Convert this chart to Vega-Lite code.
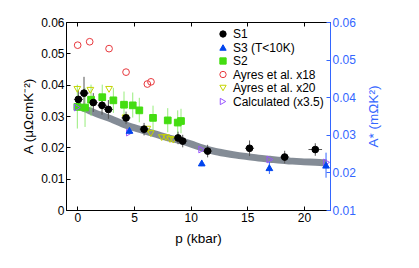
{
  "$schema": "https://vega.github.io/schema/vega-lite/v6.json",
  "width": 264,
  "height": 188,
  "autosize": {"type": "none"},
  "padding": {"left": 66, "top": 22, "right": 89, "bottom": 58},
  "config": {
    "font": "Liberation Sans",
    "view": {"stroke": "#000000", "strokeWidth": 1},
    "axis": {"labelFontSize": 12, "titleFontSize": 13.5, "titleFontWeight": "normal", "grid": false, "labelColor": "#000", "titleColor": "#000", "domainColor": "#000", "tickColor": "#000", "labelOverlap": false},
    "legend": {"labelFontSize": 12, "rowPadding": 1.5, "labelOffset": 4, "symbolStrokeWidth": 1, "symbolSize": 40, "padding": 2, "offset": 4}
  },
  "datasets": {
    "pts": [
      {"series": "S2", "p": 0.0, "A": 0.0329, "lo": 0.026, "hi": 0.040},
      {"series": "S2", "p": 0.68, "A": 0.0327, "lo": 0.0265, "hi": 0.039},
      {"series": "S2", "p": 1.21, "A": 0.0352, "lo": 0.030, "hi": 0.040},
      {"series": "S2", "p": 2.2, "A": 0.036, "lo": 0.032, "hi": 0.040},
      {"series": "S2", "p": 3.18, "A": 0.035, "lo": 0.031, "hi": 0.039},
      {"series": "S2", "p": 4.12, "A": 0.0336, "lo": 0.0295, "hi": 0.0378},
      {"series": "S2", "p": 4.89, "A": 0.0334, "lo": 0.0295, "hi": 0.0375},
      {"series": "S2", "p": 5.47, "A": 0.0318, "lo": 0.028, "hi": 0.0358},
      {"series": "S2", "p": 6.68, "A": 0.0294, "lo": 0.0255, "hi": 0.0333},
      {"series": "S2", "p": 7.98, "A": 0.0286, "lo": 0.0248, "hi": 0.0325},
      {"series": "S2", "p": 8.86, "A": 0.0279, "lo": 0.024, "hi": 0.0318},
      {"series": "S2", "p": 9.15, "A": 0.0284, "lo": 0.0245, "hi": 0.0323},
      {"series": "Ayres et al. x18", "p": 0.03, "A": 0.0526},
      {"series": "Ayres et al. x18", "p": 1.09, "A": 0.0537},
      {"series": "Ayres et al. x18", "p": 2.8, "A": 0.0515},
      {"series": "Ayres et al. x18", "p": 4.3, "A": 0.044},
      {"series": "Ayres et al. x18", "p": 6.18, "A": 0.0402},
      {"series": "Ayres et al. x18", "p": 6.5, "A": 0.0409},
      {"series": "Ayres et al. x20", "p": 0.0, "A": 0.0385},
      {"series": "Ayres et al. x20", "p": 1.15, "A": 0.0382},
      {"series": "Ayres et al. x20", "p": 2.8, "A": 0.0385},
      {"series": "Ayres et al. x20", "p": 4.24, "A": 0.0294},
      {"series": "Ayres et al. x20", "p": 6.18, "A": 0.0258},
      {"series": "Ayres et al. x20", "p": 6.48, "A": 0.0244},
      {"series": "Ayres et al. x20", "p": 7.45, "A": 0.0231},
      {"series": "Ayres et al. x20", "p": 7.83, "A": 0.0231},
      {"series": "Ayres et al. x20", "p": 8.18, "A": 0.0225},
      {"series": "Ayres et al. x20", "p": 8.47, "A": 0.0223},
      {"series": "Calculated (x3.5)", "p": 0.0, "A": 0.0327},
      {"series": "Calculated (x3.5)", "p": 4.6, "A": 0.0247},
      {"series": "Calculated (x3.5)", "p": 10.98, "A": 0.0193},
      {"series": "Calculated (x3.5)", "p": 17.0, "A": 0.0161},
      {"series": "Calculated (x3.5)", "p": 22.0, "A": 0.0152},
      {"series": "S3 (T<10K)", "p": 4.6, "A": 0.0254, "lo": 0.0244, "hi": 0.0264},
      {"series": "S3 (T<10K)", "p": 10.98, "A": 0.015, "lo": 0.014, "hi": 0.016},
      {"series": "S3 (T<10K)", "p": 16.95, "A": 0.0135, "lo": 0.0115, "hi": 0.0155},
      {"series": "S3 (T<10K)", "p": 21.95, "A": 0.0143, "lo": 0.0103, "hi": 0.0183},
      {"series": "S1", "p": 0.09, "A": 0.0353, "lo": 0.0323, "hi": 0.0383, "xlo": -0.3, "xhi": 0.5},
      {"series": "S1", "p": 0.59, "A": 0.0373, "lo": 0.032, "hi": 0.0425, "xlo": 0.2, "xhi": 1.0},
      {"series": "S1", "p": 1.41, "A": 0.0343, "lo": 0.0313, "hi": 0.0373, "xlo": 1.0, "xhi": 1.8},
      {"series": "S1", "p": 2.18, "A": 0.0334, "lo": 0.0304, "hi": 0.0364, "xlo": 1.8, "xhi": 2.6},
      {"series": "S1", "p": 2.74, "A": 0.0321, "lo": 0.0291, "hi": 0.0351, "xlo": 2.35, "xhi": 3.15},
      {"series": "S1", "p": 4.3, "A": 0.0294, "lo": 0.0274, "hi": 0.0314, "xlo": 3.9, "xhi": 4.7},
      {"series": "S1", "p": 5.89, "A": 0.0258, "lo": 0.0238, "hi": 0.0278, "xlo": 5.5, "xhi": 6.3},
      {"series": "S1", "p": 8.89, "A": 0.023, "lo": 0.021, "hi": 0.025, "xlo": 8.5, "xhi": 9.3},
      {"series": "S1", "p": 9.3, "A": 0.022, "lo": 0.02, "hi": 0.024, "xlo": 8.9, "xhi": 9.7},
      {"series": "S1", "p": 11.5, "A": 0.0188, "lo": 0.0168, "hi": 0.0208, "xlo": 11.1, "xhi": 11.9},
      {"series": "S1", "p": 15.2, "A": 0.0197, "lo": 0.0172, "hi": 0.0222, "xlo": 14.8, "xhi": 15.6},
      {"series": "S1", "p": 18.3, "A": 0.0169, "lo": 0.0149, "hi": 0.0189, "xlo": 17.9, "xhi": 18.7},
      {"series": "S1", "p": 21.0, "A": 0.0193, "lo": 0.0173, "hi": 0.0213, "xlo": 20.4, "xhi": 21.6}
    ],
    "fit": [
      {"p": -0.2, "Astar": 0.0380},
      {"p": 1, "Astar": 0.0365},
      {"p": 2, "Astar": 0.0353},
      {"p": 3, "Astar": 0.0342},
      {"p": 4, "Astar": 0.0329},
      {"p": 5, "Astar": 0.0319},
      {"p": 6, "Astar": 0.0310},
      {"p": 7, "Astar": 0.0301},
      {"p": 8, "Astar": 0.0292},
      {"p": 9, "Astar": 0.0285},
      {"p": 10, "Astar": 0.0276},
      {"p": 11, "Astar": 0.0265},
      {"p": 12, "Astar": 0.0257},
      {"p": 13, "Astar": 0.0251},
      {"p": 14, "Astar": 0.0246},
      {"p": 15, "Astar": 0.0242},
      {"p": 16, "Astar": 0.0238},
      {"p": 17, "Astar": 0.0235},
      {"p": 18, "Astar": 0.0232},
      {"p": 19, "Astar": 0.0230},
      {"p": 20, "Astar": 0.0228},
      {"p": 21, "Astar": 0.0227},
      {"p": 22, "Astar": 0.0225}
    ]
  },
  "resolve": {"scale": {"y": "independent"}, "axis": {"x": "independent"}},
  "layer": [
    {
      "data": {"name": "fit"},
      "mark": {"type": "line", "stroke": "#6f7884", "strokeWidth": 7, "opacity": 0.85, "interpolate": "monotone"},
      "encoding": {
        "x": {"field": "p", "type": "quantitative", "scale": {"domain": [-1, 22.3], "nice": false}, "axis": {"orient": "bottom", "values": [0, 5, 10, 15, 20], "title": "p (kbar)", "tickSize": -4, "labelPadding": 6, "titleY": 28, "titleBaseline": "middle", "domain": false}},
        "y": {"field": "Astar", "type": "quantitative", "scale": {"domain": [0.01, 0.06], "nice": false, "zero": false},
          "axis": {"orient": "right", "values": [0.01, 0.02, 0.03, 0.04, 0.05, 0.06], "format": ".2f", "title": "A* (mΩK²)", "titleAngle": -90, "titleX": 43, "titleBaseline": "middle", "tickSize": -4, "labelPadding": 6, "labelOverlap": false, "labelColor": "#3366ff", "titleColor": "#3366ff", "domainColor": "#3366ff", "tickColor": "#3366ff"}}
      }
    },
    {
      "data": {"name": "pts"},
      "layer": [
        {
          "transform": [{"filter": "datum.series == 'S2'"}],
          "mark": {"type": "rule", "stroke": "#7de85a", "strokeWidth": 1, "opacity": 0.8},
          "encoding": {
            "x": {"field": "p", "type": "quantitative", "scale": {"domain": [-1, 22.3], "nice": false}, "axis": {"orient": "top", "values": [0, 5, 10, 15, 20], "labels": false, "title": null, "tickSize": -4, "domain": false}},
            "y": {"field": "lo", "type": "quantitative", "scale": {"domain": [0, 0.06], "nice": false},
              "axis": {"orient": "left", "values": [0, 0.01, 0.02, 0.03, 0.04, 0.05, 0.06], "labelExpr": "datum.value == 0 ? '0' : format(datum.value, '.2f')", "labelOverlap": false, "title": "A (μΩcmK⁻²)", "titleX": -38, "titleBaseline": "middle", "tickSize": -4, "labelPadding": 6}},
            "y2": {"field": "hi"}
          }
        },
        {
          "transform": [{"filter": "datum.series == 'S1'"}],
          "mark": {"type": "rule", "stroke": "#555555", "strokeWidth": 1},
          "encoding": {
            "x": {"field": "p", "type": "quantitative", "scale": {"domain": [-1, 22.3], "nice": false}},
            "y": {"field": "lo", "type": "quantitative", "scale": {"domain": [0, 0.06], "nice": false},
              "axis": {"orient": "left", "values": [0, 0.01, 0.02, 0.03, 0.04, 0.05, 0.06], "labelExpr": "datum.value == 0 ? '0' : format(datum.value, '.2f')", "labelOverlap": false, "title": "A (μΩcmK⁻²)", "titleX": -38, "titleBaseline": "middle", "tickSize": -4, "labelPadding": 6}},
            "y2": {"field": "hi"}
          }
        },
        {
          "transform": [{"filter": "datum.series == 'S1'"}],
          "mark": {"type": "rule", "stroke": "#555555", "strokeWidth": 1},
          "encoding": {
            "x": {"field": "xlo", "type": "quantitative", "scale": {"domain": [-1, 22.3], "nice": false}},
            "x2": {"field": "xhi"},
            "y": {"field": "A", "type": "quantitative", "scale": {"domain": [0, 0.06], "nice": false},
              "axis": {"orient": "left", "values": [0, 0.01, 0.02, 0.03, 0.04, 0.05, 0.06], "labelExpr": "datum.value == 0 ? '0' : format(datum.value, '.2f')", "labelOverlap": false, "title": "A (μΩcmK⁻²)", "titleX": -38, "titleBaseline": "middle", "tickSize": -4, "labelPadding": 6}}
          }
        },
        {
          "transform": [{"filter": "datum.series == 'S3 (T<10K)'"}],
          "mark": {"type": "rule", "stroke": "#3366ff", "strokeWidth": 1},
          "encoding": {
            "x": {"field": "p", "type": "quantitative", "scale": {"domain": [-1, 22.3], "nice": false}},
            "y": {"field": "lo", "type": "quantitative", "scale": {"domain": [0, 0.06], "nice": false},
              "axis": {"orient": "left", "values": [0, 0.01, 0.02, 0.03, 0.04, 0.05, 0.06], "labelExpr": "datum.value == 0 ? '0' : format(datum.value, '.2f')", "labelOverlap": false, "title": "A (μΩcmK⁻²)", "titleX": -38, "titleBaseline": "middle", "tickSize": -4, "labelPadding": 6}},
            "y2": {"field": "hi"}
          }
        },
        {
          "mark": {"type": "point", "strokeWidth": 1, "opacity": 1},
          "encoding": {
            "x": {"field": "p", "type": "quantitative", "scale": {"domain": [-1, 22.3], "nice": false}},
            "y": {"field": "A", "type": "quantitative", "scale": {"domain": [0, 0.06], "nice": false},
              "axis": {"orient": "left", "values": [0, 0.01, 0.02, 0.03, 0.04, 0.05, 0.06], "labelExpr": "datum.value == 0 ? '0' : format(datum.value, '.2f')", "labelOverlap": false, "title": "A (μΩcmK⁻²)", "titleX": -38, "titleBaseline": "middle", "tickSize": -4, "labelPadding": 6}},
            "shape": {"field": "series", "type": "nominal", "title": null,
              "scale": {"domain": ["S1", "S3 (T<10K)", "S2", "Ayres et al. x18", "Ayres et al. x20", "Calculated (x3.5)"],
                "range": ["circle", "triangle-up", "square", "circle", "triangle-down", "triangle-right"]},
              "legend": {"orient": "top-right"}},
            "stroke": {"field": "series", "type": "nominal", "title": null,
              "scale": {"domain": ["S1", "S3 (T<10K)", "S2", "Ayres et al. x18", "Ayres et al. x20", "Calculated (x3.5)"],
                "range": ["#000000", "#0044ee", "#44dd11", "#e8383d", "#c5d400", "#9955ff"]},
              "legend": {"orient": "top-right"}},
            "fill": {"field": "series", "type": "nominal", "title": null,
              "scale": {"domain": ["S1", "S3 (T<10K)", "S2", "Ayres et al. x18", "Ayres et al. x20", "Calculated (x3.5)"],
                "range": ["#000000", "#0044ee", "#44dd11", "transparent", "transparent", "transparent"]},
              "legend": {"orient": "top-right"}},
            "size": {"value": 45}
          }
        }
      ]
    }
  ]
}
